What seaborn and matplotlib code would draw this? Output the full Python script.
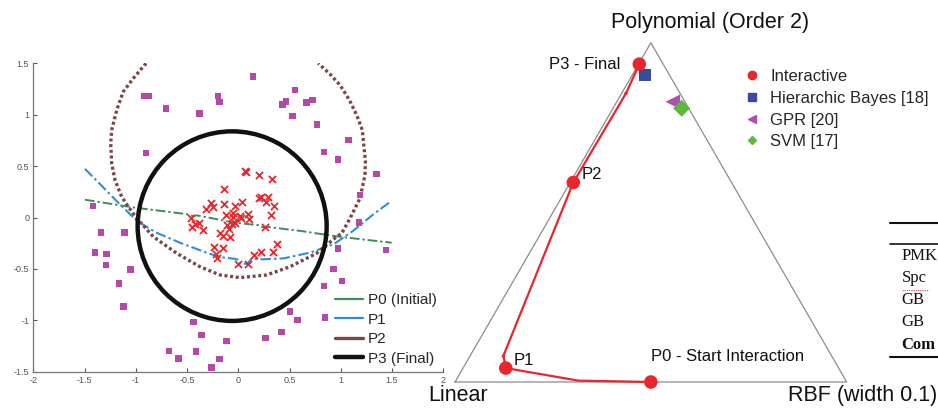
import numpy as np
import pandas as pd
import matplotlib
matplotlib.use("Agg")
import matplotlib.pyplot as plt
import seaborn as sns
from matplotlib.lines import Line2D
from matplotlib.patches import Ellipse

sns.set_theme(style="white")
plt.rcParams["font.family"] = ["Liberation Sans", "DejaVu Sans"]

# ---------------- data: left panel ----------------
neg_x = [0.146, -0.92, -0.87, -0.195, -0.185, -0.705, -0.38, 0.556, 0.465, 0.43, 0.667, 0.725,
         0.53, 0.77, 1.076, 0.836, 0.97, -0.90, 1.35, 1.187, -1.42, 1.18, -1.34, -1.11, 0.97,
         1.44, -1.40, -1.285, -1.29, -1.05, 0.93, 1.01, -1.164, 0.836, -1.12, 0.504, 0.576,
         0.846, -0.436, -0.358, -0.114, 0.267, 0.42, -0.673, -0.413, -0.585, -0.185, -0.26]
neg_y = [1.37, 1.18, 1.18, 1.18, 1.125, 1.06, 1.01, 1.24, 1.13, 1.10, 1.12, 1.14,
         0.99, 0.906, 0.756, 0.636, 0.564, 0.626, 0.424, 0.218, 0.11, -0.049, -0.147, -0.147, -0.30,
         -0.316, -0.342, -0.352, -0.463, -0.505, -0.502, -0.62, -0.642, -0.668, -0.864, -0.916, -0.998,
         -0.972, -1.017, -1.141, -1.20, -1.174, -1.115, -1.298, -1.304, -1.373, -1.379, -1.46]

pos_x = [0.07, 0.075, 0.205, 0.325, -0.14, 0.20, 0.22, 0.286, 0.267, 0.348, 0.322, 0.039,
         -0.033, -0.137, -0.267, -0.32, -0.244, -0.124, -0.055, 0.016, 0.091, 0.107, -0.462,
         -0.42, -0.387, -0.341, -0.449, -0.107, -0.065, -0.033, -0.088, -0.179, -0.153, -0.081,
         0.26, 0.38, 0.335, 0.22, 0.15, -0.237, -0.15, -0.218, -0.205, -0.003, 0.098, -0.05, 0.03]
pos_y = [0.456, 0.44, 0.417, 0.378, 0.277, 0.19, 0.196, 0.196, 0.147, 0.114, 0.026, 0.147,
         0.108, 0.127, 0.137, 0.078, 0.098, 0.023, 0.039, 0.013, 0.033, -0.016, 0.0,
         -0.065, -0.049, -0.124, -0.088, -0.072, -0.065, -0.049, -0.114, -0.147, -0.179, -0.189,
         -0.088, -0.261, -0.333, -0.339, -0.365, -0.284, -0.293, -0.352, -0.391, -0.45, -0.45, 0.007, 0.0]

# P0 (initial, linear) boundary
p0_x = [-1.496, -1.024, -0.504, -0.45, -0.40, -0.211, -0.049, 0.20, 0.24, 0.276, 0.602, 0.927, 1.252, 1.496]
p0_y = [0.173, 0.098, 0.033, 0.015, 0.02, -0.016, -0.049, -0.075, -0.095, -0.091, -0.13, -0.179, -0.218, -0.245]

# P1 boundary
p1_x = [-1.496, -1.35, -1.19, -0.99, -0.80, -0.57, -0.31, -0.18, -0.05, 0.0, 0.01, 0.09, 0.13,
        0.21, 0.44, 0.70, 0.93, 1.12, 1.32, 1.496]
p1_y = [0.473, 0.326, 0.163, -0.033, -0.147, -0.245, -0.342, -0.385, -0.40, -0.41, -0.45, -0.45, -0.40,
        -0.408, -0.398, -0.342, -0.261, -0.13, 0.033, 0.163]

# P2 boundary (open arc, clipped at top of axes)
p2_x = [-0.90, -1.024, -1.122, -1.186, -1.235, -1.245, -1.235, -1.203, -1.138, -1.073, -0.991,
        -0.829, -0.601, -0.374, -0.179, 0.017, 0.277, 0.504, 0.764, 0.959, 1.009, 1.09, 1.187,
        1.236, 1.240, 1.21, 1.155, 1.08, 0.992, 0.89, 0.78]
p2_y = [1.50, 1.354, 1.224, 1.046, 0.851, 0.722, 0.527, 0.365, 0.202, 0.105, -0.008,
        -0.187, -0.348, -0.479, -0.559, -0.585, -0.559, -0.479, -0.348, -0.187, -0.154, -0.008, 0.187,
        0.413, 0.55, 0.85, 0.997, 1.15, 1.289, 1.40, 1.50]

# P3 (final) boundary: closed, nearly circular contour (centre, width, height)
p3_center = [-0.06, -0.084]
p3_size = [1.844, 1.844]

xtick_vals = [-2, -1.5, -1, -0.5, 0, 0.5, 1, 1.5, 2]
xtick_labels = ["-2", "-1.5", "-1", "-0.5", "0", "0.5", "1", "1.5", "2"]
ytick_vals = [-1.5, -1, -0.5, 0, 0.5, 1, 1.5]
ytick_labels = ["-1.5", "-1", "-0.5", "0", "0.5", "1", "1.5"]
left_legend_labels = ["P0 (Initial)", "P1", "P2", "P3 (Final)"]

# ---------------- data: right panel (ternary fractions) ----------------
path_lin = [0.500, 0.683, 0.850, 0.838, 0.404, 0.138, 0.061]
path_rbf = [0.500, 0.313, 0.109, 0.085, 0.008, 0.011, 0.002]
path_poly = [0.000, 0.004, 0.041, 0.077, 0.588, 0.851, 0.937]
key_idx = [0, 2, 4, 6]
dot_idx = [3, 5]

base_names = ["Hierarchic Bayes [18]", "GPR [20]", "SVM [17]"]
base_lin = [0.062, 0.031, 0.017]
base_rbf = [0.033, 0.143, 0.175]
base_poly = [0.905, 0.826, 0.807]

vertex_labels = ["Linear", "RBF (width 0.1)", "Polynomial (Order 2)"]
point_labels = ["P0 - Start Interaction", "P1", "P2", "P3 - Final"]
table_rows = ["PMK", "Spc", "GB", "GB", "Com"]


def tern(rbf, poly):
    rbf = np.asarray(rbf, float)
    poly = np.asarray(poly, float)
    return rbf + poly / 2.0, poly * np.sqrt(3) / 2.0


W, H = 938, 408
fig = plt.figure(figsize=(W / 100, H / 100), dpi=100)
fig.patch.set_facecolor("white")

# ---------------- left panel ----------------
ax = fig.add_axes([33.3 / W, (H - 371.7) / H, 410 / W, 308.4 / H])
ax.set_facecolor("white")

C0, C1, C2, C3 = "#3d8c5c", "#2f8fd4", "#7a4646", "#111111"
sns.lineplot(x=p0_x, y=p0_y, sort=False, estimator=None, color=C0, lw=1.4,
             ls=(0, (5, 1.5, 1.2, 1.5)), ax=ax)
sns.lineplot(x=p1_x, y=p1_y, sort=False, estimator=None, color=C1, lw=1.5,
             ls=(0, (5, 1.5, 1.2, 1.5)), ax=ax)
sns.lineplot(x=p2_x, y=p2_y, sort=False, estimator=None, color=C2, lw=2.4,
             ls=(0, (0.9, 0.8)), ax=ax)
ax.add_patch(Ellipse(p3_center, p3_size[0], p3_size[1], fill=False, ec=C3, lw=3.2, zorder=2))

sns.scatterplot(x=neg_x, y=neg_y, marker="s", color="#b24aa6", s=21, edgecolor="none", ax=ax, zorder=3)
sns.scatterplot(x=pos_x, y=pos_y, marker="x", color="#e8262b", s=26, linewidth=1.3, ax=ax, zorder=3)

ax.set_xlim(-2, 2)
ax.set_ylim(-1.5, 1.5)
ax.set_xticks(xtick_vals)
ax.set_xticklabels(xtick_labels)
ax.set_yticks(ytick_vals)
ax.set_yticklabels(ytick_labels)
ax.tick_params(direction="in", length=3, width=0.8, colors="#555555", labelsize=6.5,
               left=True, bottom=True, pad=3)
for side in ["top", "right"]:
    ax.spines[side].set_visible(False)
for side in ["left", "bottom"]:
    ax.spines[side].set_color("#777777")
    ax.spines[side].set_linewidth(0.9)

handles = [Line2D([], [], color=C0, lw=1.6),
           Line2D([], [], color=C1, lw=1.6),
           Line2D([], [], color=C2, lw=2.4),
           Line2D([], [], color=C3, lw=3.2)]
ax.legend(handles, left_legend_labels, loc="center left",
          bbox_to_anchor=(335 / W, 1 - 329.5 / H), bbox_transform=fig.transFigure,
          frameon=False, fontsize=11, handlelength=1.85, handletextpad=0.3,
          labelspacing=0.36, borderpad=0, borderaxespad=0)

# ---------------- right panel (ternary) ----------------
ax2 = fig.add_axes([420 / W, 0, 518 / W, 1])
ax2.set_xlim(-0.0894, 1.2331)
ax2.set_ylim(-0.0664, 0.9752)
ax2.axis("off")
ax2.patch.set_alpha(0)

vx, vy = tern([0, 1, 0, 0], [0, 0, 1, 0])
ax2.plot(vx, vy, color="#8c8c8c", lw=0.9, zorder=1)

RED = "#e8262b"
px, py = tern(path_rbf, path_poly)
sns.lineplot(x=px, y=py, sort=False, estimator=None, color=RED, lw=1.6, ax=ax2, zorder=2)
sns.scatterplot(x=px[dot_idx], y=py[dot_idx], color=RED, s=6, edgecolor="none", ax=ax2, zorder=3)
sns.scatterplot(x=px[key_idx], y=py[key_idx], color=RED, s=95, edgecolor="none", ax=ax2, zorder=4)

bx, by = tern(base_rbf, base_poly)
sns.scatterplot(x=bx[[0]], y=by[[0]], marker="s", color="#3a4a9e", s=70, edgecolor="none", ax=ax2, zorder=3)
sns.scatterplot(x=bx[[1]], y=by[[1]], marker="<", color="#b04fae", s=110, edgecolor="none", ax=ax2, zorder=3)
sns.scatterplot(x=bx[[2]], y=by[[2]], marker="D", color="#5cb83e", s=75, edgecolor="none", ax=ax2, zorder=4)

# point labels
ax2.text(0.4996, 0.0646, point_labels[0], fontsize=12, ha="left", va="center", color="#111111")
ax2.text(0.1488, 0.0544, point_labels[1], fontsize=12, ha="left", va="center", color="#111111")
ax2.text(0.3235, 0.5285, point_labels[2], fontsize=12, ha="left", va="center", color="#111111")
ax2.text(0.4212, 0.8118, point_labels[3], fontsize=12, ha="right", va="center", color="#111111")

# vertex labels
ax2.text(0.0077, -0.0357, vertex_labels[0], fontsize=15.5, ha="center", va="center", color="#111111")
ax2.text(0.849, -0.0357, vertex_labels[1], fontsize=15.5, ha="left", va="center", color="#111111")
ax2.text(0.651, 0.918, vertex_labels[2], fontsize=15.5, ha="center", va="center", color="#111111")

leg_handles = [Line2D([], [], ls="none", marker="o", color=RED, ms=6),
               Line2D([], [], ls="none", marker="s", color="#3a4a9e", ms=5.5),
               Line2D([], [], ls="none", marker="<", color="#b04fae", ms=6),
               Line2D([], [], ls="none", marker="D", color="#5cb83e", ms=4.5)]
ax2.legend(leg_handles, ["Interactive"] + base_names, loc="center left",
           bbox_to_anchor=(743.4 / W, 1 - 109.3 / H), bbox_transform=fig.transFigure,
           frameon=False, fontsize=12, handlelength=1.0, handletextpad=0.6,
           labelspacing=0.4, borderpad=0, borderaxespad=0)

# ---------------- clipped table at far right ----------------
for ypx, lw in [(222.7, 1.5), (244.3, 1.2), (357.3, 1.5)]:
    fig.add_artist(Line2D([890 / W, 1.0], [1 - ypx / H, 1 - ypx / H], color="#111111", lw=lw,
                          transform=fig.transFigure))
row_y = [256.0, 278.5, 300.5, 322.5, 345.0]
for i, (lab, ypx) in enumerate(zip(table_rows, row_y)):
    fig.text(901.5 / W, 1 - ypx / H, lab, fontsize=12, ha="left", va="center",
             family=["Liberation Serif", "DejaVu Serif"],
             fontweight="bold" if i == len(table_rows) - 1 else "normal", color="#111111")
# spell-check squiggle under "Spc"
fig.add_artist(Line2D([902 / W, 929 / W], [1 - 289.5 / H, 1 - 289.5 / H], color="#e05050", lw=0.8,
                      ls=(0, (1, 1)), transform=fig.transFigure))

fig.savefig("out.png", dpi=100, facecolor="white")
